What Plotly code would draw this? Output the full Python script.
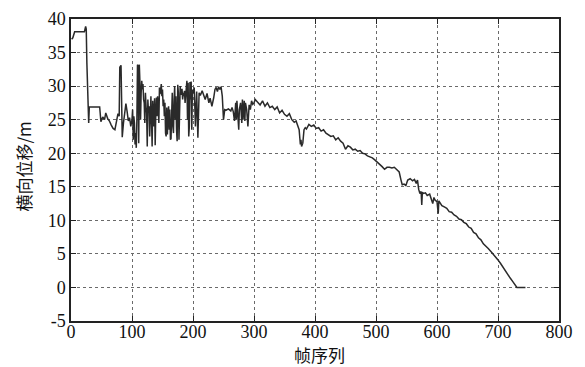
import plotly.graph_objects as go

# Frame index (x) and lateral displacement in metres (y)
frames_a = [1, 3, 6, 22, 24, 25, 26, 27, 28, 29, 30, 31, 47, 49, 52, 55, 57, 60, 63, 66, 69, 72, 74, 77, 79,
            80, 82, 83, 84, 86, 88, 90, 92, 94, 96, 98, 100]
disp_a = [37.0, 37.2, 38.1, 38.1, 38.9, 38.5, 33.5, 29.0, 24.9, 24.5, 26.9, 26.9, 26.9, 24.7, 25.4, 25.0, 26.0,
          25.2, 24.8, 24.2, 23.7, 23.5, 24.5, 25.9, 25.5, 32.8, 33.1, 29.0, 22.4, 24.5, 25.9, 27.4, 26.2, 24.8,
          25.3, 24.0, 25.0]

frames_b = list(range(101, 201))
disp_b = [26.5, 22.0, 25.5, 24.5, 21.3, 23.0, 20.8, 25.0, 33.2, 33.0,
          21.5, 33.2, 30.5, 25.0, 29.0, 30.8, 29.5, 30.3, 28.0, 27.5,
          24.5, 29.0, 27.0, 26.0, 21.0, 28.0, 26.0, 27.0, 22.5, 26.5,
          28.5, 25.0, 21.0, 27.8, 26.0, 24.0, 28.2, 21.2, 26.0, 28.3,
          25.5, 28.5, 27.0, 24.5, 29.8, 28.8, 29.5, 30.3, 28.5, 29.5,
          27.0, 28.0, 25.5, 27.5, 23.0, 22.5, 26.8, 22.8, 25.5, 27.0,
          23.5, 26.5, 22.0, 22.2, 25.8, 29.0, 24.0, 23.0, 28.0, 30.0,
          25.0, 28.5, 23.5, 21.8, 30.2, 29.0, 22.0, 29.5, 30.0, 28.7,
          29.0, 29.6, 28.0, 29.0, 28.5, 29.3, 27.5, 28.5, 29.5, 30.8,
          25.0, 30.5, 22.5, 24.0, 30.6, 28.0, 30.7, 23.5, 29.5, 29.0]

frames_c = [202, 204, 206, 208, 210, 212, 215, 218, 220, 223, 226, 228, 231, 234, 236, 238, 240, 242, 244, 246,
            248, 250, 252, 254, 258, 262, 264, 266, 268, 270, 271, 272, 274, 275, 276, 278, 280, 281, 282, 284,
            285, 286, 288, 290, 292, 294, 296, 298, 300]
disp_c = [29.8, 24.0, 29.2, 22.3, 29.0, 28.6, 29.3, 28.5, 28.0, 28.9, 27.5, 28.2, 27.0, 28.3, 29.5, 29.8, 29.2,
          29.9, 29.5, 29.9, 28.5, 25.0, 26.5, 26.4, 26.6, 26.3, 26.8, 26.2, 24.8, 27.5, 25.0, 27.8, 24.0, 23.5,
          26.5, 27.5, 24.5, 28.0, 25.0, 27.8, 24.8, 27.5, 26.5, 24.0, 27.2, 26.5, 27.8, 27.3, 27.5]

frames_d = [302, 306, 310, 314, 318, 322, 326, 330, 334, 338, 342, 346, 350, 354, 358, 362, 366, 369, 372, 374,
            376, 377, 378, 380, 382, 384, 386, 390, 394, 398, 402, 406, 410, 414, 418, 422, 426, 430, 434, 438,
            442, 446, 450, 454, 458, 462, 466, 470, 474, 478, 482, 486, 490, 494, 498]
disp_d = [28.0, 27.6, 27.2, 27.8, 27.0, 27.5, 26.8, 27.0, 26.5, 26.9, 26.0, 26.4, 25.8, 25.5, 25.9, 25.0, 24.6,
          24.8, 24.0, 23.5, 21.3, 22.0, 21.0, 21.5, 23.5, 23.8, 23.6, 24.3, 24.0, 24.2, 23.7, 23.8, 23.3, 23.5,
          23.0, 22.8, 22.5, 22.6, 22.0, 22.3, 21.8, 21.5, 20.6, 21.1, 20.9, 20.5, 20.6, 20.3, 20.4, 20.0, 19.9,
          19.6, 19.5, 19.3, 19.0]

frames_e = [502, 506, 510, 514, 518, 522, 526, 530, 534, 538, 541, 543, 546, 549, 552, 556, 560, 563, 566, 568,
            570, 572, 574, 575, 576, 578, 581, 584, 588, 591, 593, 595, 597, 600, 602, 603, 605, 608, 612, 616,
            620, 624, 628, 632, 636, 640, 644, 648, 652, 656, 660, 664, 668, 672, 676, 680, 684, 688, 692, 696,
            700, 704, 708, 712, 716, 720, 724, 728, 731, 735, 740, 745]
disp_e = [18.7, 18.4, 18.0, 17.6, 17.9, 17.9, 17.8, 17.9, 17.6, 17.2, 16.0, 15.3, 15.4, 15.2, 16.0, 16.2, 15.9,
          16.1, 15.5, 16.0, 14.6, 14.0, 14.3, 12.3, 14.2, 14.0, 14.1, 13.7, 13.9, 13.2, 12.5, 13.4, 13.0, 12.8,
          11.0, 12.9, 12.6, 12.2, 12.0, 11.8, 11.3, 11.2, 10.8, 10.6, 10.2, 10.1, 9.7, 9.5, 9.0, 8.8, 8.2, 8.0,
          7.4, 7.1, 6.5, 6.2, 5.8, 5.4, 5.0, 4.6, 4.1, 3.6, 3.0, 2.6, 2.0, 1.4, 0.9, 0.3, 0.0, 0.0, 0.0, 0.0]

frames = frames_a + frames_b + frames_c + frames_d + frames_e
disp = disp_a + disp_b + disp_c + disp_d + disp_e

x_ticks = [0, 100, 200, 300, 400, 500, 600, 700, 800]
y_ticks = [-5, 0, 5, 10, 15, 20, 25, 30, 35, 40]
x_title = "帧序列"
y_title = "横向位移/m"

serif = "Liberation Serif, DejaVu Serif, Times New Roman, serif"
cjk = "Noto Sans CJK SC"

fig = go.Figure(go.Scatter(x=frames, y=disp, mode="lines",
                           line=dict(color="#2a2a2a", width=1.5), showlegend=False))

axis_common = dict(showline=True, linecolor="#222222", linewidth=1.5, mirror="ticks",
                   ticks="inside", ticklen=5, tickcolor="#222222", tickwidth=1.2,
                   showgrid=True, gridcolor="#6a6a6a", griddash="dot", gridwidth=1,
                   zeroline=False, automargin=False, ticklabeloverflow="allow",
                   tickfont=dict(family=serif, size=18, color="#111111"))

fig.update_xaxes(range=[0, 800], tickvals=x_ticks, ticktext=[str(v) for v in x_ticks],
                 ticklabelstandoff=-6, **axis_common)
fig.update_yaxes(range=[-5, 40], tickvals=y_ticks, ticktext=[str(v) for v in y_ticks],
                 **axis_common)

fig.add_annotation(text=x_title, xref="paper", yref="paper", x=0.51, y=-0.112,
                   xanchor="center", yanchor="middle", showarrow=False,
                   font=dict(family=cjk, size=17, color="#111111"))
fig.add_annotation(text=y_title, xref="paper", yref="paper", x=-0.098, y=0.512,
                   xanchor="center", yanchor="middle", showarrow=False, textangle=-90,
                   font=dict(family=cjk, size=17, color="#111111"))

fig.update_layout(width=585, height=367, margin=dict(l=63, r=34, t=11, b=54),
                  paper_bgcolor="white", plot_bgcolor="white")

fig.write_html("out.html")
